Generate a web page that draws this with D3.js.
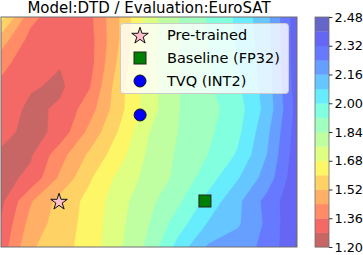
<!DOCTYPE html>
<html><head><meta charset="utf-8">
<script src="https://cdn.jsdelivr.net/npm/d3@7"></script>
<style>html,body{margin:0;padding:0;background:#fff;}svg{display:block;font-family:"DejaVu Sans",sans-serif;}</style>
</head><body><svg id="c" width="363" height="255"></svg>
<script>
const title = "Model:DTD / Evaluation:EuroSAT";
const levels = [1.20,1.28,1.36,1.44,1.52,1.60,1.68,1.76,1.84,1.92,2.00,2.08,2.16,2.24,2.32,2.40,2.48];
const tickLabels = ["1.20","1.36","1.52","1.68","1.84","2.00","2.16","2.32","2.48"];
// grid coordinates (columns x = 0..10, rows y = 10 (top) .. 0 (bottom))
const gridX = [0,1,2,3,4,5,6,7,8,9,10];
const gridY = [10,9,8,7,6,5,4,3,2,1,0];
const row10 = [1.63,1.386,1.30,1.34,1.52,1.725,1.837,1.925,2.015,2.14,2.37];
const row9  = [1.48,1.33,1.29,1.33,1.52,1.725,1.837,1.924,2.01,2.135,2.37];
const row8  = [1.39,1.30,1.285,1.33,1.54,1.725,1.837,1.915,2.00,2.125,2.37];
const row7  = [1.34,1.29,1.265,1.354,1.57,1.725,1.837,1.905,1.986,2.12,2.36];
const row6  = [1.33,1.26,1.293,1.405,1.573,1.725,1.837,1.89,1.965,2.11,2.35];
const row5  = [1.32,1.24,1.31,1.464,1.608,1.757,1.842,1.903,1.98,2.143,2.36];
const row4  = [1.26,1.27,1.409,1.536,1.648,1.777,1.852,1.921,2.01,2.163,2.37];
const row3  = [1.25,1.30,1.455,1.59,1.703,1.788,1.86,1.964,2.073,2.197,2.38];
const row2  = [1.26,1.431,1.547,1.625,1.73,1.819,1.905,2.027,2.141,2.268,2.39];
const row1  = [1.29,1.47,1.558,1.63,1.74,1.838,1.963,2.087,2.149,2.257,2.40];
const row0  = [1.31,1.509,1.568,1.637,1.748,1.86,2.034,2.171,2.208,2.259,2.41];
const markerNames = ["Pre-trained","Baseline (FP32)","TVQ (INT2)"];
const markerX = [1.96,6.89,4.70];
const markerY = [2.0,2.0,5.74];

const rows = [row10,row9,row8,row7,row6,row5,row4,row3,row2,row1,row0];
const nx = gridX.length, ny = gridY.length;
const values = rows.flat();

const svg = d3.select("#c");
const L=1, R=297, T=17, B=247;
const x = d3.scaleLinear().domain([d3.min(gridX), d3.max(gridX)]).range([L,R]);
const y = d3.scaleLinear().domain([d3.min(gridY), d3.max(gridY)]).range([B,T]);

// jet colormap (matplotlib segment data), reversed, alpha 0.6 over white
const jetSeg = {
  r: [[0,0],[0.35,0],[0.66,1],[0.89,1],[1,0.5]],
  g: [[0,0],[0.125,0],[0.375,1],[0.64,1],[0.91,0],[1,0]],
  b: [[0,0.5],[0.11,1],[0.34,1],[0.65,0],[1,0]]
};
function seg(s,t){for(let i=1;i<s.length;i++){if(t<=s[i][0]){const [x0,y0]=s[i-1],[x1,y1]=s[i];return y0+(y1-y0)*(t-x0)/(x1-x0);}}return s[s.length-1][1];}
const alpha = 0.6;
function bandColor(k){
  const lo=levels[0], hi=levels[levels.length-1];
  const mid=(levels[k]+levels[k+1])/2;
  const t=1-(mid-lo)/(hi-lo);
  const c=[seg(jetSeg.r,t),seg(jetSeg.g,t),seg(jetSeg.b,t)].map(v=>Math.round(alpha*v*255+(1-alpha)*255));
  return d3.rgb(c[0],c[1],c[2]).formatHex();
}

svg.append("defs").append("clipPath").attr("id","clip")
  .append("rect").attr("x",L).attr("y",T).attr("width",R-L).attr("height",B-T);

const contours = d3.contours().size([nx,ny]).thresholds(levels.slice(0,-1))(values);
const proj = d3.geoTransform({point(px,py){
  const gx = gridX[0] + (px-0.5)*(gridX[nx-1]-gridX[0])/(nx-1);
  const gy = gridY[0] + (py-0.5)*(gridY[ny-1]-gridY[0])/(ny-1);
  this.stream.point(x(gx), y(gy));
}});
const path = d3.geoPath(proj);
svg.append("g").attr("clip-path","url(#clip)")
  .selectAll("path").data(contours).join("path")
  .attr("d",path)
  .attr("fill",d=>bandColor(levels.indexOf(d.value)))
  .attr("stroke",d=>bandColor(levels.indexOf(d.value)))
  .attr("stroke-width",0.3);

svg.append("rect").attr("x",L).attr("y",T).attr("width",R-L).attr("height",B-T)
  .attr("fill","none").attr("stroke","#6e6e6e").attr("stroke-width",1);

// markers
const starSym = d3.symbol().type(d3.symbolStar).size(85);
function drawMarker(g, i, cx, cy){
  if(i===0){
    g.append("path").attr("d",starSym()).attr("transform",`translate(${cx},${cy+1})`)
      .attr("fill","#ffc0cb").attr("stroke","#111").attr("stroke-width",1);
  } else if(i===1){
    g.append("rect").attr("x",cx-6).attr("y",cy-6).attr("width",12).attr("height",12)
      .attr("fill","#008000").attr("stroke","#222").attr("stroke-width",1);
  } else {
    g.append("circle").attr("cx",cx).attr("cy",cy).attr("r",6)
      .attr("fill","#0000ff").attr("stroke","#111").attr("stroke-width",1);
  }
}
const mg = svg.append("g");
markerNames.forEach((n,i)=>drawMarker(mg,i,x(markerX[i]),y(markerY[i])));

// legend
const lg = svg.append("g");
lg.append("rect").attr("x",120.5).attr("y",23.5).attr("width",168).attr("height",70).attr("rx",3)
  .attr("fill","#fff").attr("fill-opacity",0.8).attr("stroke","#cccccc");
markerNames.forEach((n,i)=>{
  const cy = 35 + i*23;
  drawMarker(lg,i,140,cy);
  lg.append("text").attr("x",167).attr("y",cy).attr("dy","0.36em")
    .attr("font-size",14.5).attr("fill","#000").text(n);
});

// title
svg.append("text").attr("x",(L+R)/2).attr("y",13).attr("text-anchor","middle")
  .attr("font-size",15).attr("fill","#000").text(title);

// colorbar
const cbL=315, cbR=329;
const cy = d3.scaleLinear().domain([levels[0],levels[levels.length-1]]).range([B,T]);
const cb = svg.append("g");
cb.selectAll("rect.band").data(d3.range(levels.length-1)).join("rect").attr("class","band")
  .attr("x",cbL).attr("width",cbR-cbL)
  .attr("y",k=>cy(levels[k+1])).attr("height",k=>cy(levels[k])-cy(levels[k+1])+0.3)
  .attr("fill",k=>bandColor(k));
cb.append("rect").attr("x",cbL).attr("y",T).attr("width",cbR-cbL).attr("height",B-T)
  .attr("fill","none").attr("stroke","#6e6e6e").attr("stroke-width",0.8);
const axis = d3.axisRight(cy).tickValues(tickLabels.map(Number)).tickFormat((d,i)=>tickLabels[i]).tickSize(3.5).tickPadding(2);
const ag = svg.append("g").attr("transform",`translate(${cbR},0)`).call(axis);
ag.select(".domain").remove();
ag.selectAll("text").attr("font-size",12.8).attr("font-family","DejaVu Sans").attr("fill","#000");
ag.selectAll("line").attr("stroke","#000").attr("stroke-width",0.8);
</script></body></html>
